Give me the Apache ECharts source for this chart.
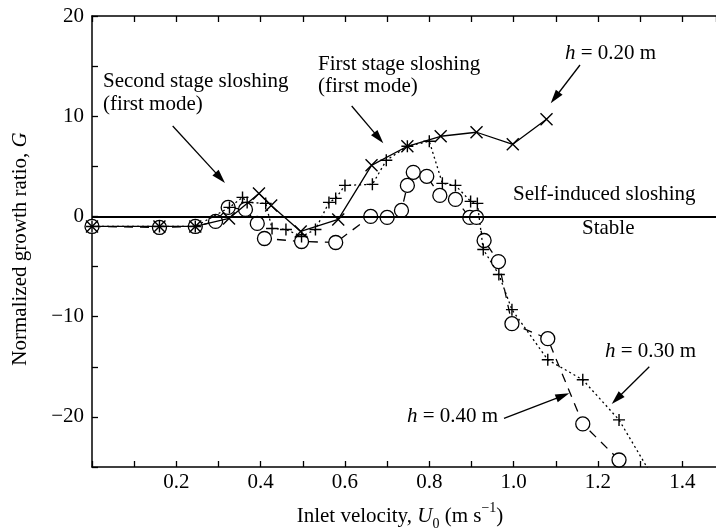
<!DOCTYPE html>
<html>
<head>
<meta charset="utf-8">
<script src="https://cdn.jsdelivr.net/npm/echarts@6/dist/echarts.min.js"></script>
<style>
  html, body { margin: 0; padding: 0; background: #fff; }
  #chart { width: 716px; height: 531px; }
</style>
</head>
<body>
<div id="chart"></div>
<script>
// Inlet velocity U0 (m/s) and normalized growth ratio G, one pair of arrays per water depth h
const u020 = [0, 0.16, 0.245, 0.325, 0.396, 0.425, 0.495, 0.584, 0.663, 0.748, 0.827, 0.912, 0.998, 1.078];
const g020 = [-1.0, -1.0, -1.0, -0.2, 2.3, 1.1, -1.5, -0.3, 5.1, 7.0, 8.0, 8.4, 7.2, 9.7];

const u030 = [0, 0.16, 0.245, 0.326, 0.357, 0.368, 0.412, 0.427, 0.46, 0.497, 0.53, 0.562, 0.578, 0.60, 0.665, 0.698, 0.748, 0.80, 0.831, 0.862, 0.898, 0.914, 0.928, 0.965, 0.996, 1.081, 1.164, 1.25, 1.33];
const g030 = [-1.0, -1.0, -1.0, 0.9, 1.9, 1.4, 1.3, -1.2, -1.3, -2.0, -1.3, 1.4, 1.8, 3.1, 3.2, 5.6, 7.0, 7.5, 3.3, 3.1, 1.5, 1.3, -3.3, -5.8, -9.3, -14.3, -16.3, -20.3, -26.0];

const u040 = [0, 0.16, 0.245, 0.293, 0.323, 0.364, 0.392, 0.409, 0.497, 0.578, 0.661, 0.70, 0.734, 0.748, 0.762, 0.794, 0.825, 0.862, 0.896, 0.912, 0.93, 0.964, 0.996, 1.081, 1.164, 1.25];
const g040 = [-1.0, -1.1, -1.0, -0.5, 0.9, 0.7, -0.7, -2.2, -2.5, -2.6, 0.0, -0.1, 0.6, 3.1, 4.4, 4.0, 2.1, 1.7, -0.1, -0.1, -2.4, -4.5, -10.7, -12.2, -20.7, -24.3];

// Boundary between self-induced sloshing and stable flow
const stabilityLimit = 0;

// Axis ranges and labelled ticks
const xRange = [0, 1.48];
const yRange = [-25, 20];
const xTickLabels = ['0.2', '0.4', '0.6', '0.8', '1.0', '1.2', '1.4'];
const yTickLabels = ['20', '10', '0', '\u221210', '\u221220'];

const FONT = 'Liberation Serif';
const PLUS = 'path://M0,5L10,5M5,0L5,10';
const CROSS = 'path://M0,0L10,10M10,0L0,10';

const pairs = (u, g) => u.map((v, i) => [v, g[i]]);

function fmtX(v) {
  const s = v.toFixed(1);
  return xTickLabels.indexOf(s) >= 0 && Math.abs(v * 10 - Math.round(v * 10)) < 1e-6 ? s : '';
}
function fmtY(v) {
  const s = v < 0 ? '\u2212' + Math.abs(v) : String(v);
  return yTickLabels.indexOf(s) >= 0 ? s : '';
}

function arrow(x1, y1, x2, y2) {
  const dx = x2 - x1, dy = y2 - y1, L = Math.hypot(dx, dy);
  const ux = dx / L, uy = dy / L, hl = 14, hw = 4.2;
  const bx = x2 - ux * hl, by = y2 - uy * hl;
  return [
    { type: 'line', silent: true, shape: { x1: x1, y1: y1, x2: bx + ux * 2, y2: by + uy * 2 },
      style: { stroke: '#000', lineWidth: 1.3 } },
    { type: 'polygon', silent: true,
      shape: { points: [[x2, y2], [bx - uy * hw, by + ux * hw], [bx + uy * hw, by - ux * hw]] },
      style: { fill: '#000' } }
  ];
}

const ital = { fontSize: 21, fontFamily: FONT, fontStyle: 'italic', fill: '#000' };
function label(text, x, baseline, extra) {
  return Object.assign({
    type: 'text', silent: true, x: x, y: baseline - 7,
    style: { text: text, fontSize: 21, fontFamily: FONT, fill: '#000',
             align: 'left', verticalAlign: 'middle', rich: { i: ital } }
  }, extra || {});
}

const chart = echarts.init(document.getElementById('chart'), null, { renderer: 'canvas' });

const axisLineStyle = { color: '#000', width: 1.5 };
const tickStyle = { color: '#000', width: 1.3 };

chart.setOption({
  animation: false,
  backgroundColor: '#fff',
  grid: { left: 92, top: 16, right: 0, bottom: 64, containLabel: false },
  xAxis: [
    {
      type: 'value', min: xRange[0], max: xRange[1], interval: 0.1,
      axisLine: { show: true, onZero: false, lineStyle: axisLineStyle },
      axisTick: { show: true, inside: true, length: 6, lineStyle: tickStyle },
      axisLabel: { show: true, margin: 5, color: '#000', fontSize: 21, fontFamily: FONT,
                   formatter: fmtX, showMaxLabel: false },
      splitLine: { show: false }
    },
    {
      type: 'value', position: 'top', min: xRange[0], max: xRange[1], interval: 0.1,
      axisLine: { show: true, onZero: false, lineStyle: axisLineStyle },
      axisTick: { show: true, inside: true, length: 6, lineStyle: tickStyle },
      axisLabel: { show: false },
      splitLine: { show: false }
    }
  ],
  yAxis: {
    type: 'value', min: yRange[0], max: yRange[1], interval: 5,
    axisLine: { show: true, onZero: false, lineStyle: axisLineStyle },
    axisTick: { show: true, inside: true, length: 6, lineStyle: tickStyle },
    axisLabel: { show: true, margin: 8, color: '#000', fontSize: 21, fontFamily: FONT, formatter: fmtY },
    splitLine: { show: false }
  },
  series: [
    {
      name: 'h = 0.40 m', type: 'line', xAxisIndex: 0, data: pairs(u040, g040),
      symbol: 'circle', symbolSize: 14, clip: true, z: 2,
      itemStyle: { color: '#fff', borderColor: '#000', borderWidth: 1.3 },
      lineStyle: { color: '#000', width: 1.3, type: [9, 7] }
    },
    {
      name: 'h = 0.30 m', type: 'line', xAxisIndex: 0, data: pairs(u030, g030),
      symbol: PLUS, symbolSize: 12, clip: true, z: 3,
      itemStyle: { color: '#000', borderColor: '#000', borderWidth: 1.4 },
      lineStyle: { color: '#000', width: 1.3, type: [2, 3] }
    },
    {
      name: 'h = 0.20 m', type: 'line', xAxisIndex: 0, data: pairs(u020, g020),
      symbol: CROSS, symbolSize: 12, clip: true, z: 4,
      itemStyle: { color: '#000', borderColor: '#000', borderWidth: 1.4 },
      lineStyle: { color: '#000', width: 1.3, type: 'solid' },
      markLine: {
        silent: true, symbol: ['none', 'none'], animation: false,
        label: { show: false },
        lineStyle: { color: '#000', width: 2, type: 'solid' },
        data: [{ yAxis: stabilityLimit }]
      }
    }
  ],
  graphic: [].concat(
    arrow(172.7, 126, 225, 183),
    arrow(351.7, 106, 383.3, 143.3),
    arrow(580, 65, 550.7, 103.3),
    arrow(649.3, 366.7, 611.7, 404),
    arrow(504, 418.3, 569.3, 393.3),
    [
      label('Second stage sloshing', 103, 88),
      label('(first mode)', 103, 111),
      label('First stage sloshing', 318, 71),
      label('(first mode)', 318, 93),
      label('{i|h} = 0.20 m', 565, 60),
      label('Self-induced sloshing', 513, 201),
      label('Stable', 582, 235),
      label('{i|h} = 0.30 m', 605, 358),
      label('{i|h} = 0.40 m', 407, 423),
      {
        type: 'text', silent: true, x: 20, y: 249, rotation: Math.PI / 2,
        style: { text: 'Normalized growth ratio, {i|G}', fontSize: 21, fontFamily: FONT, fill: '#000',
                 align: 'center', verticalAlign: 'middle', rich: { i: ital } }
      },
      {
        type: 'text', silent: true, x: 400, y: 516,
        style: {
          text: '{t|Inlet velocity, }{u|U}{sub|0}{t| (m s}{sup|\u22121}{t|)}',
          fill: '#000', align: 'center', verticalAlign: 'middle',
          rich: {
            t: { fontSize: 21, fontFamily: FONT, fill: '#000', lineHeight: 30 },
            u: { fontSize: 21, fontFamily: FONT, fontStyle: 'italic', fill: '#000', lineHeight: 30 },
            sub: { fontSize: 14, fontFamily: FONT, fill: '#000', lineHeight: 14, verticalAlign: 'bottom' },
            sup: { fontSize: 14, fontFamily: FONT, fill: '#000', lineHeight: 14, verticalAlign: 'top' }
          }
        }
      }
    ]
  )
});
</script>
</body>
</html>
